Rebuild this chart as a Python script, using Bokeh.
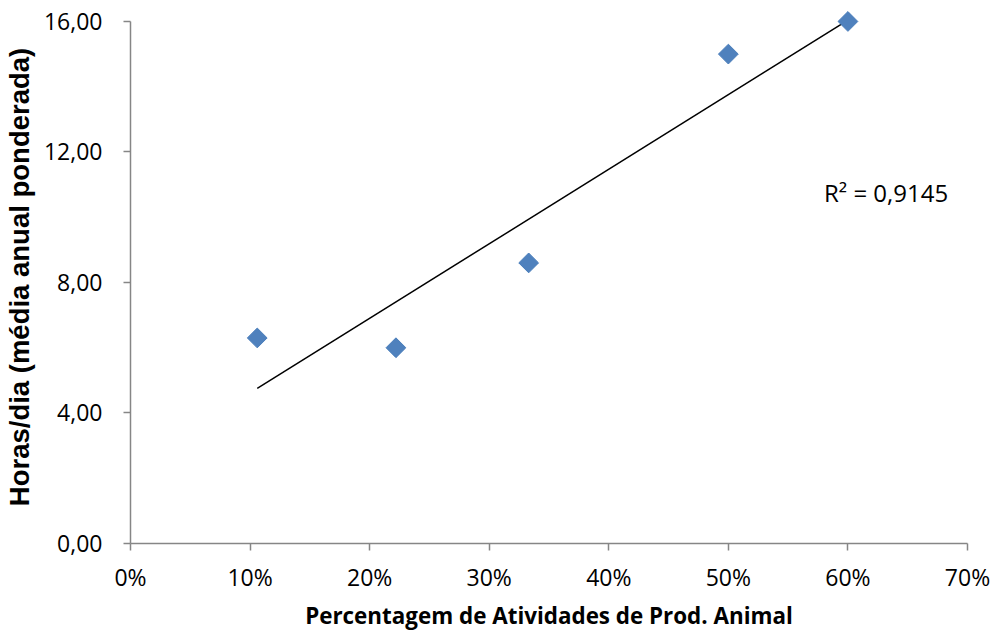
import numpy as np
from bokeh.plotting import figure
from bokeh.models import Range1d, NumeralTickFormatter, CustomJSTickFormatter, FixedTicker, Label, ColumnDataSource
from bokeh.embed import file_html
from bokeh.resources import INLINE

# Data
pct_animal = [0.106, 0.222, 0.333, 0.500, 0.600]
horas_dia = [6.30, 6.00, 8.60, 15.00, 16.00]
x_ticks = [0.0, 0.1, 0.2, 0.3, 0.4, 0.5, 0.6, 0.7]
y_ticks = [0, 4, 8, 12, 16]
r2_text = "R² = 0,9145"
x_title = "Percentagem de Atividades de Prod. Animal"
y_title = "Horas/dia (média anual ponderada)"

# Linear trendline (least squares fit of the series)
slope, intercept = np.polyfit(pct_animal, horas_dia, 1)
trend_x = [min(pct_animal), max(pct_animal)]
trend_y = [slope * v + intercept for v in trend_x]

p = figure(width=995, height=633, output_backend="svg", toolbar_location=None,
           x_range=Range1d(0, 0.7), y_range=Range1d(0, 16.336))
p.min_border_left = 130
p.min_border_right = 28
p.min_border_top = 10
p.min_border_bottom = 88
p.outline_line_color = None
p.xgrid.grid_line_color = None
p.ygrid.grid_line_color = None
p.background_fill_color = "white"
p.border_fill_color = "white"

p.line(trend_x, trend_y, line_color="black", line_width=1.5)
src = ColumnDataSource(dict(x=pct_animal, y=horas_dia))
p.scatter("x", "y", source=src, marker="square", angle=np.pi / 4, size=14,
          fill_color="#4F81BD", line_color="#4A7EBB", line_width=1)

p.add_layout(Label(x=0.58, y=10.75, text=r2_text, text_baseline="middle",
                   text_font="Open Sans", text_font_size="24px", text_color="black"))

for ax in (p.xaxis[0], p.yaxis[0]):
    ax.axis_line_color = "#868686"
    ax.axis_line_width = 1.5
    ax.major_tick_line_color = "#868686"
    ax.major_tick_line_width = 1.5
    ax.major_tick_out = 7
    ax.major_tick_in = 0
    ax.minor_tick_line_color = None
    ax.major_label_text_font = "Open Sans"
    ax.major_label_text_font_size = "23px"
    ax.major_label_text_color = "black"

p.xaxis.ticker = FixedTicker(ticks=x_ticks)
p.xaxis.formatter = NumeralTickFormatter(format="0%")
p.xaxis.axis_label = x_title
p.xaxis.axis_label_text_font = "Open Sans"
p.xaxis.axis_label_text_font_style = "bold"
p.xaxis.axis_label_text_font_size = "22.4px"
p.xaxis.axis_label_text_color = "black"
p.xaxis.major_label_standoff = 10
p.xaxis.axis_label_standoff = 4

p.yaxis.ticker = FixedTicker(ticks=y_ticks)
p.yaxis.bounds = (0, 16)
p.yaxis.formatter = CustomJSTickFormatter(code="return tick.toFixed(2).replace('.', ',');")
p.yaxis.axis_label = y_title
p.yaxis.axis_label_text_font = "Liberation Sans"
p.yaxis.axis_label_text_font_style = "bold"
p.yaxis.axis_label_text_font_size = "27.5px"
p.yaxis.axis_label_text_color = "black"
p.yaxis.major_label_standoff = 21
p.yaxis.axis_label_standoff = 6

open("out.html", "w").write(file_html(p, INLINE))
